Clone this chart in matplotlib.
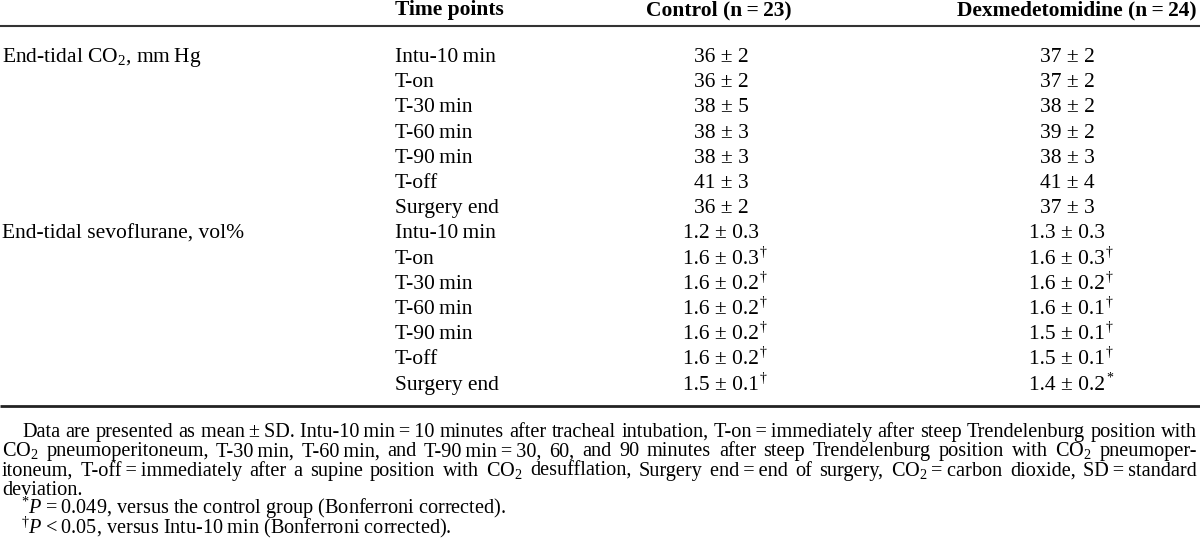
import matplotlib

matplotlib.use("Agg")
import matplotlib.pyplot as plt

plt.rcParams["font.family"] = ["Liberation Serif", "DejaVu Serif"]
plt.rcParams["mathtext.fontset"] = "custom"
plt.rcParams["mathtext.rm"] = "Liberation Serif"
plt.rcParams["mathtext.it"] = "Liberation Serif:italic"
plt.rcParams["mathtext.bf"] = "Liberation Serif:bold"

TS = "\u2009"  # thin space

HEADERS = ["Time points", f"Control (n{TS}={TS}23)", f"Dexmedetomidine (n{TS}={TS}24)"]
VARIABLES = [f"End-tidal CO$_2$, mm{TS}Hg", "End-tidal sevoflurane, vol%"]
TIME_POINTS = [f"Intu-10{TS}min", "T-on", f"T-30{TS}min", f"T-60{TS}min",
               f"T-90{TS}min", "T-off", "Surgery end"]

co2_ctrl_mean = [36, 36, 38, 38, 38, 41, 36]
co2_ctrl_sd = [2, 2, 5, 3, 3, 3, 2]
co2_dex_mean = [37, 37, 38, 39, 38, 41, 37]
co2_dex_sd = [2, 2, 2, 2, 3, 4, 3]

sevo_ctrl_mean = [1.2, 1.6, 1.6, 1.6, 1.6, 1.6, 1.5]
sevo_ctrl_sd = [0.3, 0.3, 0.2, 0.2, 0.2, 0.2, 0.1]
sevo_ctrl_mark = ["", "†", "†", "†", "†", "†", "†"]
sevo_dex_mean = [1.3, 1.6, 1.6, 1.6, 1.5, 1.5, 1.4]
sevo_dex_sd = [0.3, 0.3, 0.2, 0.1, 0.1, 0.1, 0.2]
sevo_dex_mark = ["", "†", "†", "†", "†", "†", "*"]

FOOT_LINES = [
    ["Data", "are", "presented", "as", f"mean{TS}±{TS}SD.", f"Intu-10{TS}min{TS}={TS}10", "minutes",
     "after", "tracheal", "intubation,", f"T-on{TS}={TS}immediately", "after", "steep",
     "Trendelenburg", "position", "with"],
    ["CO$_2$", "pneumoperitoneum,", f"T-30{TS}min,", f"T-60{TS}min,", "and", f"T-90{TS}min{TS}={TS}30,",
     "60,", "and", "90", "minutes", "after", "steep", "Trendelenburg", "position", "with", "CO$_2$",
     "pneumoper-"],
    ["itoneum,", f"T-off{TS}={TS}immediately", "after", "a", "supine", "position", "with", "CO$_2$",
     "desufflation,", "Surgery", f"end{TS}={TS}end", "of", "surgery,", f"CO$_2${TS}={TS}carbon", "dioxide,",
     f"SD{TS}={TS}standard"],
]
FOOT_TAIL = "deviation."
FOOT_NOTES = [
    f"${{}}^{{*}}P${TS}={TS}0.049, versus the control group (Bonferroni corrected).",
    f"${{}}^{{\\dagger}}P${TS}<{TS}0.05, versus Intu-10{TS}min (Bonferroni corrected).",
]

W, H = 1200, 551
FS = 15.5
FS_FOOT = 14.6
COL_TIME = 395
COL_CTRL = 721
COL_DEX = 1067

fig = plt.figure(figsize=(W / 100, H / 100), dpi=100)
ax = fig.add_axes([0, 0, 1, 1])
ax.set_xlim(0, W)
ax.set_ylim(H, 0)
ax.axis("off")
renderer = fig.canvas.get_renderer()

# header
ax.text(COL_TIME, 15, HEADERS[0], fontsize=FS, weight="bold", va="baseline")
ax.text(719, 15, HEADERS[1], fontsize=FS, weight="bold", ha="center", va="baseline")
ax.text(1197, 15, HEADERS[2], fontsize=FS, weight="bold", ha="right", va="baseline")
ax.plot([0, W], [26, 26], color="#333333", lw=1.5, solid_capstyle="butt")
ax.plot([0, W], [406, 406], color="#222222", lw=2.0, solid_capstyle="butt")


def cell(x, y, text, mark=""):
    t = ax.text(x, y, text, fontsize=FS, ha="center", va="baseline")
    if mark:
        bb = t.get_window_extent(renderer)
        ax.text(bb.x1 + 1, y - 8, mark, fontsize=10, ha="left", va="baseline")


base = 62
step = 25.2
groups = [
    (co2_ctrl_mean, co2_ctrl_sd, [""] * 7, co2_dex_mean, co2_dex_sd, [""] * 7, "{:.0f}"),
    (sevo_ctrl_mean, sevo_ctrl_sd, sevo_ctrl_mark, sevo_dex_mean, sevo_dex_sd, sevo_dex_mark, "{:.1f}"),
]
row = 0
for g, (cm, cs, ck, dm, ds, dk, fmt) in enumerate(groups):
    ax.text(2, base + row * step, VARIABLES[g], fontsize=FS, va="baseline")
    for i, tp in enumerate(TIME_POINTS):
        y = base + row * step
        ax.text(COL_TIME, y, tp, fontsize=FS, va="baseline")
        cell(COL_CTRL, y, f"{fmt.format(cm[i])} ± {fmt.format(cs[i])}", ck[i])
        cell(COL_DEX, y, f"{fmt.format(dm[i])} ± {fmt.format(ds[i])}", dk[i])
        row += 1


def justify(words, x0, x1, y):
    texts = [ax.text(0, y, w, fontsize=FS_FOOT, va="baseline") for w in words]
    widths = [t.get_window_extent(renderer).width for t in texts]
    gap = (x1 - x0 - sum(widths)) / (len(words) - 1)
    x = x0
    for t, w in zip(texts, widths):
        t.set_x(x)
        x += w + gap


foot_y = [437, 456.3, 475.6, 494.9, 514.2, 533.5]
justify(FOOT_LINES[0], 22, 1197, foot_y[0])
justify(FOOT_LINES[1], 2, 1197, foot_y[1])
justify(FOOT_LINES[2], 2, 1197, foot_y[2])
ax.text(2, foot_y[3], FOOT_TAIL, fontsize=FS_FOOT, va="baseline")
ax.text(21, foot_y[4], FOOT_NOTES[0], fontsize=FS_FOOT, va="baseline")
ax.text(21, foot_y[5], FOOT_NOTES[1], fontsize=FS_FOOT, va="baseline")

fig.savefig("out.png", dpi=100)
plt.close(fig)
